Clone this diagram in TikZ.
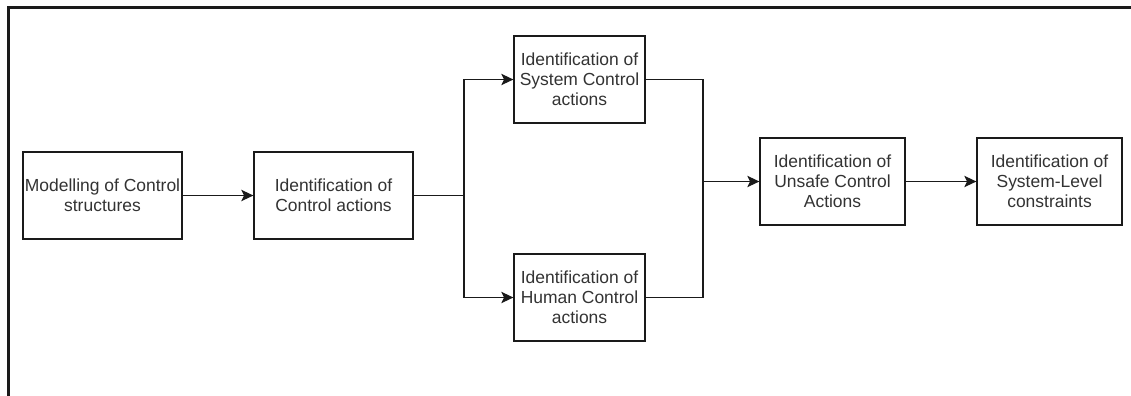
\documentclass[tikz,border=0pt]{standalone}
\usepackage{fontspec}
\setmainfont{Liberation Sans}
\usetikzlibrary{arrows.meta}
\definecolor{linecol}{HTML}{1A1A1A}
\definecolor{textcol}{HTML}{333333}
\begin{document}
\begin{tikzpicture}[x=0.75pt,y=-0.75pt,
  stepbox/.style={draw=linecol,line width=1.3*0.75pt,fill=white,
    minimum height={87*0.75pt},inner sep=0pt,align=center,
    text=textcol,font=\fontsize{13.1}{15}\selectfont},
  wide/.style={minimum width={159*0.75pt}},
  mid/.style={minimum width={131*0.75pt}},
  late/.style={minimum width={145*0.75pt}},
  link/.style={draw=linecol,line width=1.3*0.75pt},
  flow/.style={link,-{Stealth[length=9pt,width=8.5pt,inset=2pt]}}]
  \useasboundingbox (0,0) rectangle (1131,396);
  % outer frame, only its top and left edges fall inside the page
  \draw[linecol,line width=1.8pt] (8.5,400) -- (8.5,7.5) -- (1135,7.5);

  \node[stepbox,wide] (model) at (102.5,195.5) {Modelling of Control\\structures};
  \node[stepbox,wide] (ctrl) at (333.5,195.5) {Identification of\\Control actions};
  \node[stepbox,mid] (sys) at (579.5,79.5) {Identification of\\System Control\\actions};
  \node[stepbox,mid] (human) at (579.5,297.5) {Identification of\\Human Control\\actions};
  \node[stepbox,late] (unsafe) at (832.5,181.5) {Identification of\\Unsafe Control\\Actions};
  \node[stepbox,late] (limits) at (1049.5,181.5) {Identification of\\System-Level\\constraints};

  \coordinate (split) at (464,195.5);
  \coordinate (join) at (703,181.5);

  \draw[flow] (model) -- (ctrl);
  \draw[link] (ctrl.east) -- (split);
  \draw[flow] (split) |- (sys.west);
  \draw[flow] (split) |- (human.west);
  \draw[link] (sys.east) -- (sys.east -| join) -- (human.east -| join) -- (human.east);
  \draw[flow] (join) -- (unsafe.west);
  \draw[flow] (unsafe) -- (limits);
\end{tikzpicture}
\end{document}
